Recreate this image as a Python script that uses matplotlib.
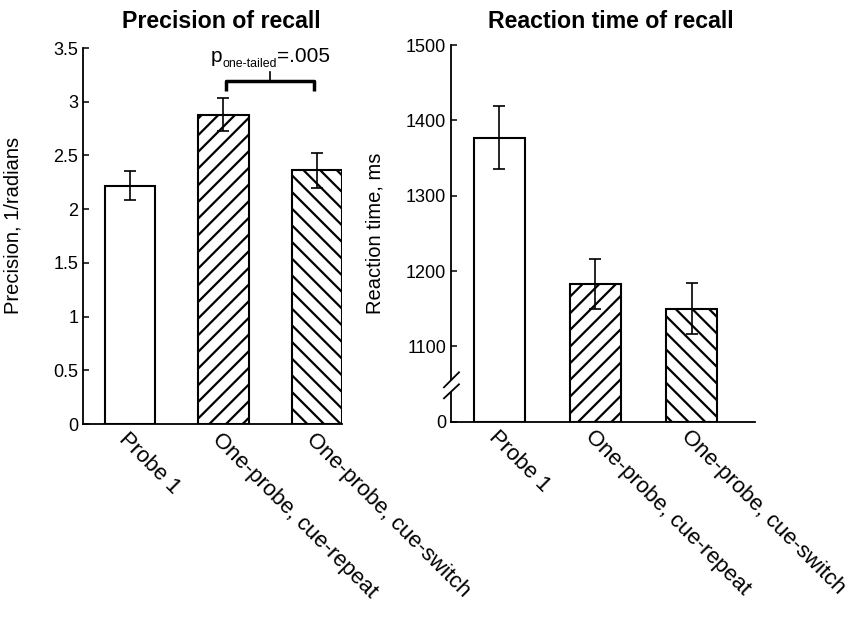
import matplotlib
matplotlib.use("Agg")
import numpy as np
import matplotlib.pyplot as plt
from matplotlib.transforms import offset_copy
from matplotlib.lines import Line2D
from matplotlib.patches import Polygon

plt.rcParams['font.family'] = ['Liberation Sans', 'DejaVu Sans']
plt.rcParams['hatch.linewidth'] = 1.6

categories = ['Probe 1', 'One-probe, cue-repeat', 'One-probe, cue-switch']
hatches = ['', '//', '\\\\']

precision = [2.22, 2.88, 2.36]
precision_err = [0.135, 0.155, 0.165]
precision_ticks = [0, 0.5, 1, 1.5, 2, 2.5, 3, 3.5]

rt = [1377, 1183, 1150]
rt_err = [42, 33, 34]
rt_floor = 1000
rt_ticks = [1000, 1100, 1200, 1300, 1400, 1500]
rt_ticklabels = ['0', '1100', '1200', '1300', '1400', '1500']

p_value = '=.005'

fig = plt.figure(figsize=(8.48, 6.19), dpi=100)
ax1 = fig.add_axes([0.0979, 0.315, 0.3054, 0.6074])
ax2 = fig.add_axes([0.5318, 0.3187, 0.3585, 0.6086])

x = np.arange(1, len(categories) + 1)


def style(ax):
	for s in ['top', 'right']:
		ax.spines[s].set_visible(False)
	for s in ['left', 'bottom']:
		ax.spines[s].set_linewidth(1.3)
	ax.tick_params(direction='in', length=4, width=1.1, labelsize=13, colors='black')
	ax.set_xticks(x)
	ax.set_xticklabels(categories, rotation=-45, ha='left', va='top',
		rotation_mode='anchor', fontsize=15.9)


# precision panel
ax1.bar(x, precision, width=0.54, color='white', edgecolor='black',
	linewidth=1.5, hatch=hatches, zorder=2)
ax1.errorbar(x, precision, yerr=precision_err, fmt='none', ecolor='black',
	elinewidth=1.2, capsize=4, capthick=1.2, zorder=3)
ax1.set_xlim(0.5, 3.27)
ax1.set_ylim(0, 3.5)
ax1.set_yticks(precision_ticks)
ax1.set_yticklabels(['%g' % t for t in precision_ticks])
style(ax1)
ax1.set_ylabel('Precision, 1/radians', fontsize=14.5)
ax1.yaxis.set_label_coords(-0.232, 0.527)

# significance bracket
ax1.plot([2.03, 2.03, 2.97, 2.97], [3.10, 3.19, 3.19, 3.10], color='black',
	lw=2.5, clip_on=False, solid_capstyle='butt')
ax1.plot([2.5, 2.5], [3.19, 3.28], color='black', lw=1.2, clip_on=False)

fig.canvas.draw()
renderer = fig.canvas.get_renderer()
px, py = 1.87, 3.373
t1 = ax1.text(px, py, 'p', fontsize=15, va='baseline', ha='left')
w1 = t1.get_window_extent(renderer).width
t2 = ax1.text(px, py, 'one-tailed', fontsize=8.9, va='baseline', ha='left',
	transform=offset_copy(ax1.transData, fig, x=w1, y=-5, units='dots'))
w2 = t2.get_window_extent(renderer).width
ax1.text(px, py, p_value, fontsize=15, va='baseline', ha='left',
	transform=offset_copy(ax1.transData, fig, x=w1 + w2, y=0, units='dots'))

# reaction time panel
ax2.bar(x, np.array(rt) - rt_floor, bottom=rt_floor, width=0.53, color='white',
	edgecolor='black', linewidth=1.5, hatch=hatches, zorder=2)
ax2.errorbar(x, rt, yerr=rt_err, fmt='none', ecolor='black',
	elinewidth=1.2, capsize=4, capthick=1.2, zorder=3)
ax2.set_xlim(0.5, 3.657)
ax2.set_ylim(rt_floor, 1500)
ax2.set_yticks(rt_ticks)
ax2.set_yticklabels(rt_ticklabels)
style(ax2)
ax2.set_ylabel('Reaction time, ms', fontsize=14.5)
ax2.yaxis.set_label_coords(-0.217, 0.5)

# axis break marks
fig.canvas.draw()
cx, cy = ax2.transData.transform((0.5, 1045))
la = [(cx - 7, cy + 0.5), (cx + 8, cy + 15.5)]
lb = [(cx - 7, cy - 10.5), (cx + 8, cy + 3.5)]
gap = Polygon([la[0], la[1], lb[1], lb[0]], closed=True, transform=None,
	facecolor='white', edgecolor='none', zorder=10)
fig.add_artist(gap)
for seg in (la, lb):
	fig.add_artist(Line2D([seg[0][0], seg[1][0]], [seg[0][1], seg[1][1]],
		transform=None, color='black', lw=1.3, zorder=11))

fig.text(0.2606, 0.9543, 'Precision of recall', fontsize=16.7, fontweight='bold',
	ha='center', va='baseline')
fig.text(0.7199, 0.9543, 'Reaction time of recall', fontsize=16.7, fontweight='bold',
	ha='center', va='baseline')

fig.savefig('out.png', dpi=100)
